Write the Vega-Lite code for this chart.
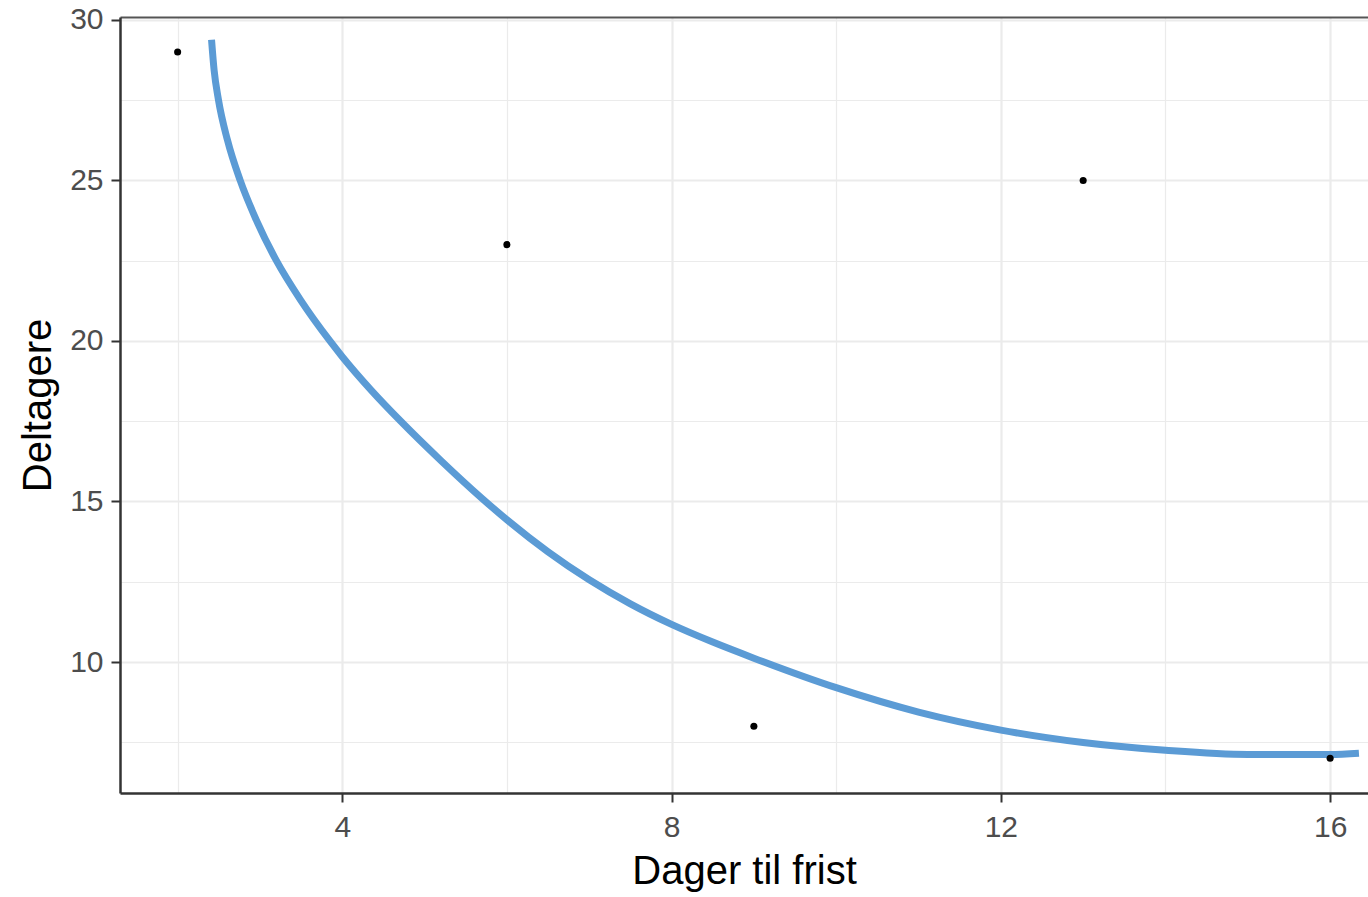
{
  "$schema": "https://vega.github.io/schema/vega-lite/v6.json",
  "width": 1248,
  "height": 776,
  "autosize": {"type": "none"},
  "padding": {"left": 120, "top": 17, "right": 0, "bottom": 104},
  "background": "white",
  "config": {
    "view": {"stroke": null},
    "font": "Liberation Sans",
    "axis": {
      "labelFont": "Liberation Sans",
      "titleFont": "Liberation Sans",
      "labelFontSize": 30,
      "labelColor": "#4D4D4D",
      "titleFontSize": 40,
      "titleFontWeight": "normal",
      "titleColor": "#000000",
      "tickColor": "#333333",
      "tickWidth": 2,
      "tickSize": 9,
      "domainColor": "#333333",
      "domainWidth": 2.5,
      "gridColor": "#EBEBEB"
    }
  },
  "datasets": {
    "points": [
      {"dager": 2, "deltagere": 29},
      {"dager": 6, "deltagere": 23},
      {"dager": 9, "deltagere": 8},
      {"dager": 13, "deltagere": 25},
      {"dager": 16, "deltagere": 7}
    ],
    "curve": [
      {"dager": 2.412, "deltagere": 29.38},
      {"dager": 2.443, "deltagere": 28.44},
      {"dager": 2.496, "deltagere": 27.51},
      {"dager": 2.605, "deltagere": 26.26},
      {"dager": 2.76, "deltagere": 25.0},
      {"dager": 2.955, "deltagere": 23.77},
      {"dager": 3.2, "deltagere": 22.5},
      {"dager": 3.492, "deltagere": 21.28},
      {"dager": 3.85, "deltagere": 20.0},
      {"dager": 4.0, "deltagere": 19.51},
      {"dager": 4.35, "deltagere": 18.47},
      {"dager": 4.714, "deltagere": 17.49},
      {"dager": 5.2, "deltagere": 16.27},
      {"dager": 5.7, "deltagere": 15.09},
      {"dager": 6.0, "deltagere": 14.43},
      {"dager": 6.5, "deltagere": 13.43},
      {"dager": 7.0, "deltagere": 12.56},
      {"dager": 7.5, "deltagere": 11.81},
      {"dager": 8.0, "deltagere": 11.17},
      {"dager": 8.5, "deltagere": 10.62},
      {"dager": 9.0, "deltagere": 10.12},
      {"dager": 10.0, "deltagere": 9.2},
      {"dager": 11.0, "deltagere": 8.44},
      {"dager": 12.0, "deltagere": 7.88},
      {"dager": 13.0, "deltagere": 7.49},
      {"dager": 14.0, "deltagere": 7.25},
      {"dager": 15.0, "deltagere": 7.12},
      {"dager": 16.0, "deltagere": 7.12},
      {"dager": 16.35, "deltagere": 7.16}
    ]
  },
  "resolve": {"axis": {"x": "independent", "y": "independent"}},
  "layer": [
    {
      "data": {"name": "curve"},
      "mark": {"type": "line", "color": "#5B9BD5", "strokeWidth": 7, "interpolate": "monotone", "strokeCap": "butt"},
      "encoding": {
        "x": {
          "field": "dager", "type": "quantitative",
          "scale": {"domain": [1.3, 16.46], "nice": false, "zero": false},
          "axis": {"orient": "top", "values": [2, 6, 10, 14], "grid": true, "gridWidth": 1.2, "labels": false, "ticks": false, "domain": true, "domainColor": "#555555", "domainWidth": 2, "title": null}
        },
        "y": {
          "field": "deltagere", "type": "quantitative",
          "scale": {"domain": [5.92, 30.09], "nice": false, "zero": false},
          "axis": {"orient": "right", "values": [7.5, 12.5, 17.5, 22.5, 27.5], "grid": true, "gridWidth": 1.2, "labels": false, "ticks": false, "domain": false, "title": null}
        }
      }
    },
    {
      "data": {"name": "points"},
      "mark": {"type": "point", "filled": true, "color": "#000000", "size": 50, "opacity": 1},
      "encoding": {
        "x": {
          "field": "dager", "type": "quantitative",
          "scale": {"domain": [1.3, 16.46], "nice": false, "zero": false},
          "axis": {"orient": "bottom", "values": [4, 8, 12, 16], "grid": true, "gridWidth": 2.2, "title": "Dager til frist", "labelPadding": 10, "titlePadding": 9}
        },
        "y": {
          "field": "deltagere", "type": "quantitative",
          "scale": {"domain": [5.92, 30.09], "nice": false, "zero": false},
          "axis": {"orient": "left", "values": [10, 15, 20, 25, 30], "grid": true, "gridWidth": 2.2, "title": "Deltagere", "labelPadding": 8, "titlePadding": 11}
        }
      }
    }
  ]
}
